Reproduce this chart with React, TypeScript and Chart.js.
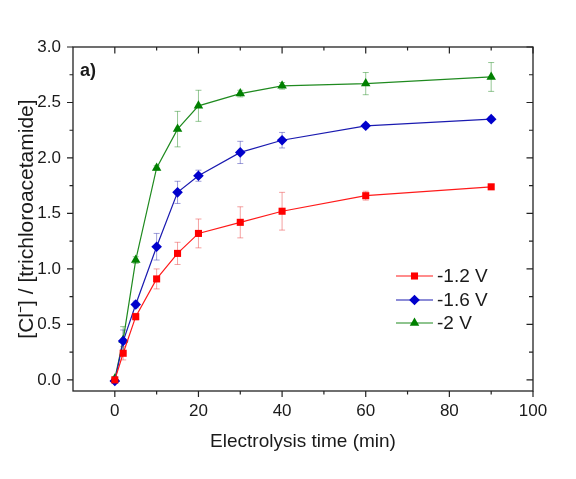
import React, { useEffect, useRef } from "react";
import { Chart, registerables } from "chart.js";

Chart.register(...registerables);

const times = [0, 2, 5, 10, 15, 20, 30, 40, 60, 90];
const seriesNames = ["-1.2 V", "-1.6 V", "-2 V"];
const red = [0.0, 0.24, 0.57, 0.91, 1.14, 1.32, 1.42, 1.52, 1.66, 1.74];
const redErr = [0.02, 0.06, 0.03, 0.09, 0.1, 0.13, 0.14, 0.17, 0.04, 0.02];
const blue = [-0.01, 0.35, 0.68, 1.2, 1.69, 1.84, 2.05, 2.16, 2.29, 2.35];
const blueErr = [0.02, 0.1, 0.03, 0.12, 0.1, 0.05, 0.1, 0.07, 0.02, 0.02];
const green = [0.01, 0.36, 1.08, 1.91, 2.26, 2.47, 2.58, 2.65, 2.67, 2.73];
const greenErr = [0.02, 0.12, 0.03, 0.02, 0.16, 0.14, 0.03, 0.03, 0.1, 0.13];

const FONT = "'Liberation Sans', Arial, sans-serif";
const TEXT = "#1a1a1a";

const colors = [
  { marker: "#ff0000", line: "#ff1a1a", err: "rgba(235,70,70,0.5)", style: "rect", r: 5 },
  { marker: "#0000cc", line: "#1a1ab0", err: "rgba(40,40,170,0.45)", style: "rectRot", r: 5.3 },
  { marker: "#008000", line: "#1f8a1f", err: "rgba(20,130,20,0.45)", style: "triangle", r: 5.5 },
];
const errs = [redErr, blueErr, greenErr];

const errorBarPlugin = {
  id: "errorBars",
  beforeDatasetsDraw(chart: any) {
    const { ctx, scales } = chart;
    const xs = scales.x;
    const ys = scales.y;
    ctx.save();
    chart.data.datasets.forEach((ds: any, i: number) => {
      ctx.strokeStyle = colors[i].err;
      ctx.lineWidth = 1;
      ds.data.forEach((p: any, j: number) => {
        const e = errs[i][j];
        const x = xs.getPixelForValue(p.x);
        const y1 = ys.getPixelForValue(p.y + e);
        const y2 = ys.getPixelForValue(p.y - e);
        ctx.beginPath();
        ctx.moveTo(x, y1);
        ctx.lineTo(x, y2);
        ctx.moveTo(x - 3, y1);
        ctx.lineTo(x + 3, y1);
        ctx.moveTo(x - 3, y2);
        ctx.lineTo(x + 3, y2);
        ctx.stroke();
      });
    });
    ctx.restore();
  },
};

function drawMarker(ctx: CanvasRenderingContext2D, style: string, r: number, x: number, y: number) {
  ctx.beginPath();
  if (style === "rect") {
    const h = r * Math.SQRT1_2;
    ctx.rect(x - h, y - h, 2 * h, 2 * h);
  } else if (style === "rectRot") {
    ctx.moveTo(x, y - r);
    ctx.lineTo(x + r, y);
    ctx.lineTo(x, y + r);
    ctx.lineTo(x - r, y);
    ctx.closePath();
  } else {
    ctx.moveTo(x, y - r);
    ctx.lineTo(x + r * 0.866, y + r * 0.5);
    ctx.lineTo(x - r * 0.866, y + r * 0.5);
    ctx.closePath();
  }
  ctx.fill();
}

const framePlugin = {
  id: "frame",
  afterDraw(chart: any) {
    const { ctx, chartArea, scales } = chart;
    const { left, right, top, bottom } = chartArea;
    const xs = scales.x;
    const ys = scales.y;
    ctx.save();
    ctx.strokeStyle = "#222";
    ctx.lineWidth = 1.3;
    ctx.strokeRect(left, top, right - left, bottom - top);
    ctx.lineWidth = 1.2;
    ctx.beginPath();
    for (let v = 0; v <= 100; v += 10) {
      const x = xs.getPixelForValue(v);
      const major = v % 20 === 0;
      const outL = major ? 6 : 3.5;
      const inL = major ? 6.5 : 3.5;
      ctx.moveTo(x, bottom);
      ctx.lineTo(x, bottom + outL);
      ctx.moveTo(x, top);
      ctx.lineTo(x, top + inL);
    }
    for (let k = 0; k <= 12; k++) {
      const v = k * 0.25;
      const y = ys.getPixelForValue(v);
      const major = k % 2 === 0;
      const outL = major ? 6 : 3.5;
      const inL = major ? 6.5 : 4;
      ctx.moveTo(left, y);
      ctx.lineTo(left - outL, y);
      ctx.moveTo(right, y);
      ctx.lineTo(right - inL, y);
    }
    ctx.stroke();

    // panel label
    ctx.fillStyle = TEXT;
    ctx.font = `bold 18px ${FONT}`;
    ctx.textBaseline = "alphabetic";
    ctx.textAlign = "left";
    ctx.fillText("a)", 80, 76);

    // legend
    const lx = 396;
    const rows = [276, 300, 323];
    chart.data.datasets.forEach((ds: any, i: number) => {
      const y = rows[i];
      const c = colors[i];
      ctx.strokeStyle = c.line;
      ctx.lineWidth = 1.2;
      ctx.beginPath();
      ctx.moveTo(lx, y);
      ctx.lineTo(lx + 37, y);
      ctx.stroke();
      ctx.fillStyle = c.marker;
      drawMarker(ctx, c.style, c.r, lx + 18.5, y);
      ctx.fillStyle = TEXT;
      ctx.font = `19px ${FONT}`;
      ctx.textBaseline = "middle";
      ctx.fillText(ds.label, lx + 41, y + 1);
    });
    ctx.restore();
  },
};

export default function App() {
  const ref = useRef<HTMLCanvasElement | null>(null);
  useEffect(() => {
    document.body.style.margin = "0";
    const vals = [red, blue, green];
    const chart = new Chart(ref.current as HTMLCanvasElement, {
      type: "line",
      data: {
        datasets: vals.map((arr, i) => ({
          label: seriesNames[i],
          data: times.map((t, j) => ({ x: t, y: arr[j] })),
          borderColor: colors[i].line,
          backgroundColor: colors[i].marker,
          pointBackgroundColor: colors[i].marker,
          pointBorderColor: colors[i].marker,
          pointBorderWidth: 0,
          pointStyle: colors[i].style as any,
          pointRadius: colors[i].r,
          borderWidth: 1.2,
          tension: 0,
          fill: false,
        })),
      },
      options: {
        responsive: false,
        animation: false,
        layout: { padding: { top: 47, right: 43, left: 0, bottom: 0 } },
        plugins: { legend: { display: false }, tooltip: { enabled: false } },
        scales: {
          x: {
            type: "linear",
            min: -10,
            max: 100,
            afterFit: (s: any) => {
              s.height = 88;
            },
            grid: { display: false, drawTicks: false },
            border: { display: false },
            ticks: {
              stepSize: 20,
              includeBounds: false,
              padding: 10,
              color: TEXT,
              font: { family: FONT, size: 17 },
              maxRotation: 0,
            },
            title: {
              display: true,
              text: "Electrolysis time (min)",
              color: TEXT,
              font: { family: FONT, size: 19 },
              padding: { top: 26, bottom: 26 },
            },
          },
          y: {
            type: "linear",
            min: -0.1,
            max: 3.0,
            afterFit: (s: any) => {
              s.width = 73;
            },
            grid: { display: false, drawTicks: false },
            border: { display: false },
            ticks: {
              stepSize: 0.5,
              includeBounds: false,
              padding: 12,
              color: TEXT,
              font: { family: FONT, size: 17 },
              callback: (v: any) => Number(v).toFixed(1),
            },
            title: {
              display: true,
              text: "[Cl\u207B] / [trichloroacetamide]",
              color: TEXT,
              font: { family: FONT, size: 21 },
              padding: { top: 15, bottom: 15 },
            },
          },
        },
      },
      plugins: [errorBarPlugin, framePlugin],
    });
    return () => chart.destroy();
  }, []);
  return (
    <div style={{ width: 576, height: 479 }}>
      <canvas ref={ref} width={576} height={479} style={{ width: 576, height: 479 }} />
    </div>
  );
}
